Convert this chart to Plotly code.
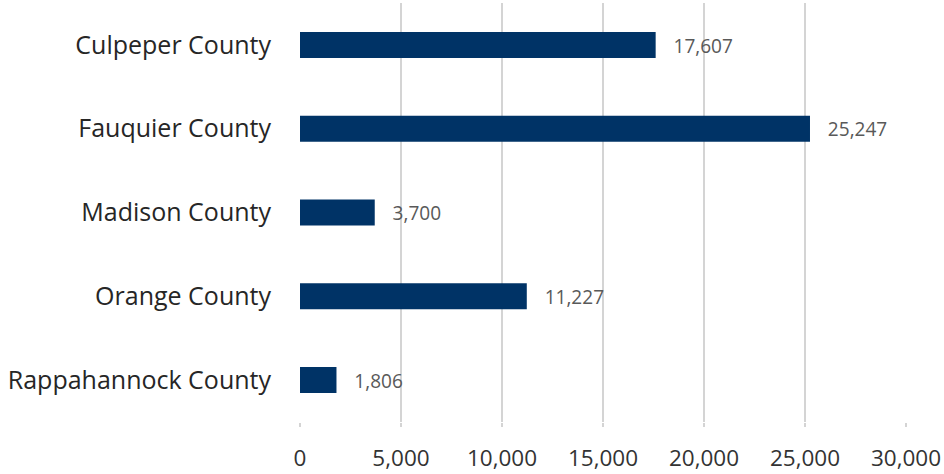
import plotly.graph_objects as go

categories = ["Culpeper County", "Fauquier County", "Madison County", "Orange County", "Rappahannock County"]
values = [17607, 25247, 3700, 11227, 1806]
tick_vals = [0, 5000, 10000, 15000, 20000, 25000, 30000]
tick_text = ["0", "5,000", "10,000", "15,000", "20,000", "25,000", "30,000"]

FONT = "Open Sans, Noto Sans, sans-serif"

fig = go.Figure(go.Bar(
    y=categories,
    x=values,
    orientation="h",
    marker=dict(color="#003366", line=dict(width=0)),
    width=0.31,
    texttemplate="   %{x:,.0f}",
    textposition="outside",
    cliponaxis=False,
    textfont=dict(family=FONT, size=22, color="#595959"),
))

fig.update_layout(
    width=944, height=474,
    margin=dict(l=300, r=38, t=3, b=52),
    paper_bgcolor="white",
    plot_bgcolor="white",
    showlegend=False,
    font=dict(family=FONT),
    bargap=0.5,
)
fig.update_xaxes(
    range=[0, 30000],
    tickvals=tick_vals,
    ticktext=tick_text,
    automargin=False,
    showgrid=True,
    gridcolor="#d4d4d4",
    gridwidth=2,
    zeroline=False,
    showline=False,
    ticks="outside",
    ticklen=4,
    tickcolor="#d4d4d4",
    tickwidth=2,
    ticklabelstandoff=12,
    tickfont=dict(family=FONT, size=22.5, color="#333333"),
)
fig.update_yaxes(
    autorange="reversed",
    automargin=False,
    showgrid=False,
    zeroline=False,
    showline=False,
    ticks="",
    ticklabelstandoff=28,
    tickfont=dict(family=FONT, size=25, color="#262626"),
)

fig.write_html("out.html", config={"displayModeBar": False},
               post_script="document.body.style.margin='0';")
